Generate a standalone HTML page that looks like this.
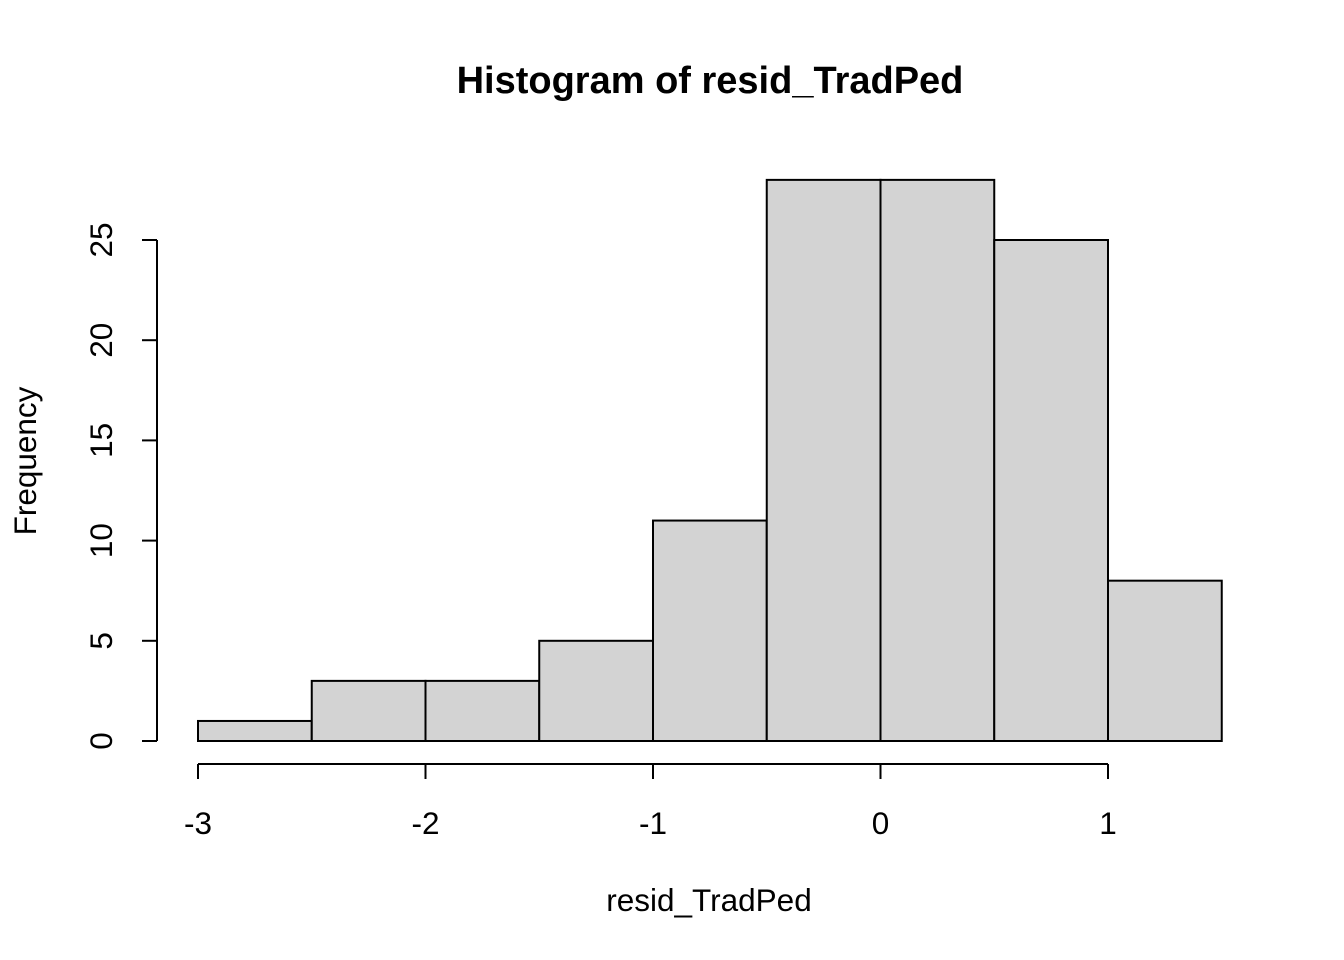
<!DOCTYPE html>
<html><head><meta charset="utf-8"><style>
html,body{margin:0;padding:0;background:#fff;}
svg{display:block;font-family:"Liberation Sans",Arial,sans-serif;}
</style></head><body>
<svg id="chart" width="1344" height="960" viewBox="0 0 1344 960" xmlns="http://www.w3.org/2000/svg">
<rect width="1344" height="960" fill="#fff"/>
<text x="710" y="93" text-anchor="middle" font-size="38" font-weight="bold">Histogram of resid_TradPed</text>
<text x="709" y="911" text-anchor="middle" font-size="31.5">resid_TradPed</text>
<text transform="translate(36,461) rotate(-90)" text-anchor="middle" font-size="31.5">Frequency</text>
<g id="bars"></g>
<g id="xaxis"></g>
<g id="yaxis"></g>
</svg>
<script>
const binStarts = [-3, -2.5, -2, -1.5, -1, -0.5, 0, 0.5, 1];
const binWidth = 0.5;
const counts = [1, 3, 3, 5, 11, 28, 28, 25, 8];
const xTicks = [-3, -2, -1, 0, 1];
const xTickLabels = ["-3", "-2", "-1", "0", "1"];
const yTicks = [0, 5, 10, 15, 20, 25];
const yTickLabels = ["0", "5", "10", "15", "20", "25"];

const NS = "http://www.w3.org/2000/svg";
function sx(v){ return 198 + (v + 3) * 227.5; }
function sy(v){ return 741 - v * 20.04; }
function mk(tag, attrs, parent){
  const e = document.createElementNS(NS, tag);
  for (const k in attrs) e.setAttribute(k, attrs[k]);
  parent.appendChild(e);
  return e;
}
const bars = document.getElementById('bars');
counts.forEach((c, i) => {
  const x0 = sx(binStarts[i]), x1 = sx(binStarts[i] + binWidth);
  const r = mk('rect', {x: x0, y: sy(c), width: x1 - x0, height: sy(0) - sy(c), fill: '#d3d3d3', stroke: '#000', 'stroke-width': 2}, bars);
  
  
});
const xa = document.getElementById('xaxis');
const xl = mk('line', {x1: sx(xTicks[0]), x2: sx(xTicks[xTicks.length-1]), y1: 764, y2: 764, stroke: '#000', 'stroke-width': 2}, xa);


xTicks.forEach((t, i) => {
  const tk = mk('line', {x1: sx(t), x2: sx(t), y1: 764, y2: 779, stroke: '#000', 'stroke-width': 2}, xa);
  
  
  const tx = mk('text', {x: sx(t), y: 834, 'text-anchor': 'middle', 'font-size': 31.5}, xa);
  tx.textContent = xTickLabels[i];
  
  
});
const ya = document.getElementById('yaxis');
const yl = mk('line', {x1: 157, x2: 157, y1: sy(yTicks[0]), y2: sy(yTicks[yTicks.length-1]), stroke: '#000', 'stroke-width': 2}, ya);


yTicks.forEach((t, i) => {
  const tk = mk('line', {x1: 142, x2: 157, y1: sy(t), y2: sy(t), stroke: '#000', 'stroke-width': 2}, ya);
  
  
  const tx = mk('text', {transform: 'translate(112,' + sy(t) + ') rotate(-90)', 'text-anchor': 'middle', 'font-size': 31.5}, ya);
  tx.textContent = yTickLabels[i];
  
  
});
</script>
</body></html>
